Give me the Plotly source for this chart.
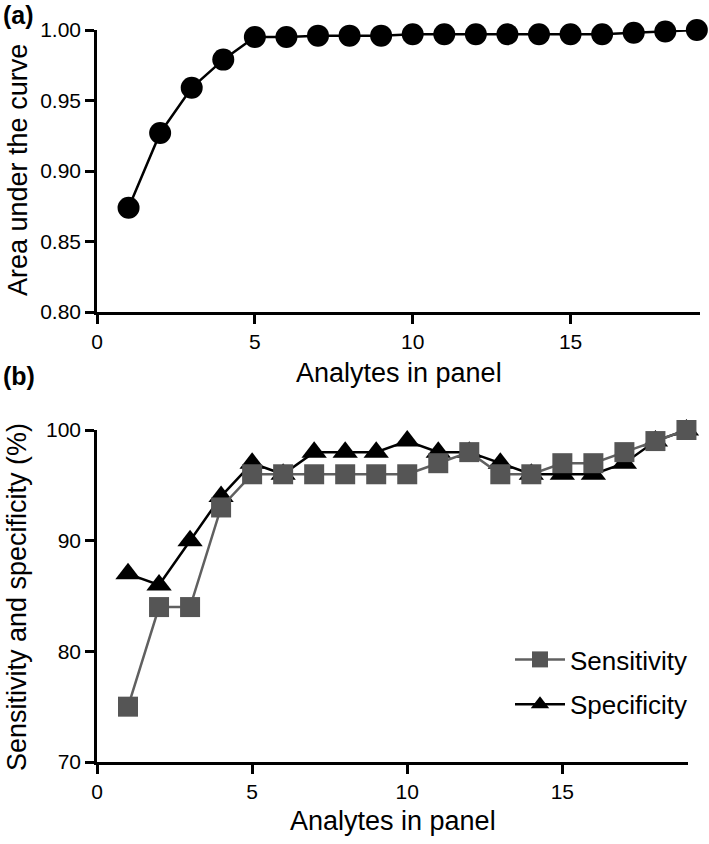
import plotly.graph_objects as go

# ---- data ----
analytes = list(range(1, 20))
auc = [0.874, 0.927, 0.959, 0.979, 0.995, 0.995, 0.996, 0.996, 0.996, 0.997,
       0.997, 0.997, 0.997, 0.997, 0.997, 0.997, 0.998, 0.999, 1.000]
sensitivity = [75, 84, 84, 93, 96, 96, 96, 96, 96, 96, 97, 98, 96, 96, 97, 97, 98, 99, 100]
specificity = [87, 86, 90, 94, 97, 96, 98, 98, 98, 99, 98, 98, 97, 96, 96, 96, 97, 99, 100]
xticks = [0, 5, 10, 15]
auc_ticks = [0.80, 0.85, 0.90, 0.95, 1.00]
pct_ticks = [70, 80, 90, 100]

W, H = 709, 844
FONT = "Arial, 'Liberation Sans', Helvetica, sans-serif"
GRAY = "#555555"

fig = go.Figure()

fig.add_trace(go.Scatter(
    x=analytes, y=auc, mode="lines+markers", xaxis="x", yaxis="y",
    line=dict(color="black", width=2.5),
    marker=dict(symbol="circle", size=22, color="black"),
    showlegend=False, cliponaxis=False))

fig.add_trace(go.Scatter(
    x=analytes, y=specificity, mode="lines+markers", xaxis="x2", yaxis="y2",
    name="Specificity", legendgroup="spec", legendrank=2,
    line=dict(color="black", width=2.5),
    marker=dict(symbol="triangle-up", size=22, color="black"),
    cliponaxis=False))

fig.add_trace(go.Scatter(
    x=analytes, y=sensitivity, mode="lines+markers", xaxis="x2", yaxis="y2",
    name="Sensitivity", legendgroup="sens", legendrank=1,
    line=dict(color="#606060", width=2.5),
    marker=dict(symbol="square", size=20, color=GRAY),
    cliponaxis=False))

axis_common = dict(showgrid=False, zeroline=False, showline=True, linecolor="black",
                   linewidth=2.5, ticks="outside", ticklen=9, tickwidth=2.5,
                   tickcolor="black", automargin=False,
                   tickfont=dict(family=FONT, size=21, color="black"))

fig.update_layout(
    width=W, height=H,
    margin=dict(l=0, r=0, t=0, b=0, autoexpand=False),
    paper_bgcolor="white", plot_bgcolor="white",
    font=dict(family=FONT, color="black"),
    xaxis=dict(domain=[97 / W, 700 / W], range=[0, 19.1], tickvals=xticks,
               anchor="y", **axis_common),
    yaxis=dict(domain=[1 - 312 / H, 1 - 30 / H], range=[0.8, 1.0], tickvals=auc_ticks,
               tickformat=".2f", anchor="x", **axis_common),
    xaxis2=dict(domain=[97 / W, 688 / W], range=[0, 19.05], tickvals=xticks,
                anchor="y2", **axis_common),
    yaxis2=dict(domain=[1 - 762 / H, 1 - 430 / H], range=[70, 100], tickvals=pct_ticks,
                anchor="x2", **axis_common),
    legend=dict(x=510 / W, y=1 - 636 / H, xanchor="left", yanchor="top",
                traceorder="grouped", tracegroupgap=8, itemwidth=50,
                font=dict(family=FONT, size=26, color="black"),
                bgcolor="rgba(0,0,0,0)"),
)

ann = [
    dict(text="<b>(a)</b>", x=18 / W, y=1 - 15 / H, size=25, angle=0),
    dict(text="<b>(b)</b>", x=19 / W, y=1 - 376 / H, size=25, angle=0),
    dict(text="Analytes in panel", x=398.5 / W, y=1 - 373 / H, size=27, angle=0),
    dict(text="Analytes in panel", x=392.5 / W, y=1 - 821 / H, size=27, angle=0),
    dict(text="Area under the curve", x=18 / W, y=1 - 170 / H, size=27, angle=-90),
    dict(text="Sensitivity and specificity (%)", x=17 / W, y=1 - 597 / H, size=27, angle=-90),
]
for a in ann:
    fig.add_annotation(text=a["text"], x=a["x"], y=a["y"], xref="paper", yref="paper",
                       xanchor="center", yanchor="middle", showarrow=False,
                       textangle=a["angle"], font=dict(family=FONT, size=a["size"], color="black"))

fig.write_html("out.html", config={"displayModeBar": False},
               post_script="document.body.style.margin='0';document.body.style.overflow='hidden';")
